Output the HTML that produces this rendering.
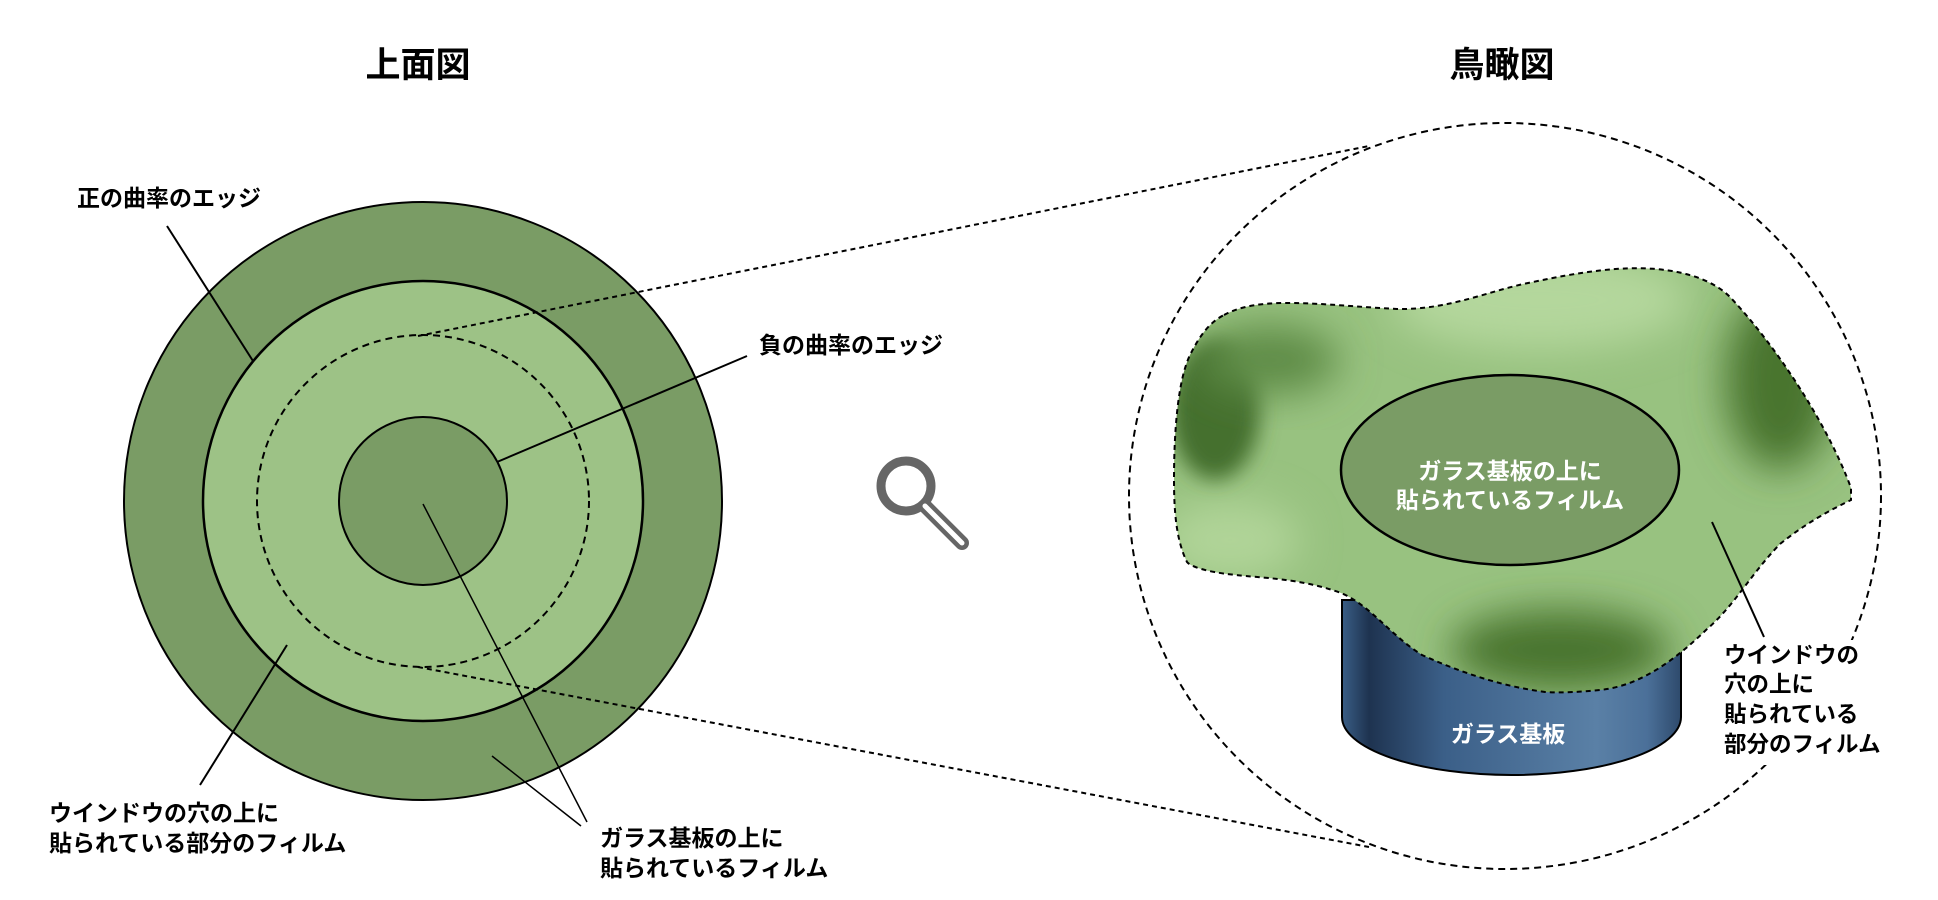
<!DOCTYPE html>
<html><head><meta charset="utf-8"><style>
html,body{margin:0;padding:0;background:#fff}
svg{display:block}
text{font-family:"Liberation Sans","Noto Sans CJK JP",sans-serif;font-weight:bold}
</style></head><body>
<svg width="1938" height="900" viewBox="0 0 1938 900" xmlns="http://www.w3.org/2000/svg">
<defs>
<linearGradient id="cyl" x1="0" x2="1" y1="0" y2="0">
<stop offset="0" stop-color="#3a5e86"/><stop offset="0.08" stop-color="#1e3350"/><stop offset="0.3" stop-color="#3b5f88"/><stop offset="0.75" stop-color="#5a80a6"/><stop offset="0.9" stop-color="#4b7099"/><stop offset="1" stop-color="#2e4a6c"/>
</linearGradient>
<clipPath id="filmclip"><path id="filmp" d="M1224,315 C1260,295 1320,305 1397,309 C1450,310 1490,290 1533,282 C1580,272 1620,266 1656,269 C1690,272 1715,282 1730,297 C1780,350 1830,430 1851,488 L1851,500 C1820,515 1800,528 1780,544 C1750,575 1735,605 1706,630 C1675,660 1640,686 1600,690 C1580,692 1560,693 1545,692 C1500,686 1460,672 1422,655 C1390,635 1370,605 1341,593 C1300,578 1260,578 1236,575 C1205,572 1190,566 1187,562 C1176,540 1174,510 1174,480 C1174,430 1178,380 1190,355 C1200,335 1210,322 1224,315 Z"/></clipPath>
<filter id="bl" x="-50%" y="-50%" width="200%" height="200%"><feGaussianBlur stdDeviation="20"/></filter>
<filter id="bl2" x="-50%" y="-50%" width="200%" height="200%"><feGaussianBlur stdDeviation="10"/></filter>
</defs>

<text x="418" y="77" font-size="35" text-anchor="middle">上面図</text>
<text x="1502" y="77" font-size="35" text-anchor="middle">鳥瞰図</text>

<circle cx="423" cy="501" r="299" fill="#7a9c65" stroke="#000" stroke-width="2"/>
<circle cx="423" cy="501" r="220" fill="#9dc286" stroke="#000" stroke-width="2.5"/>
<circle cx="423" cy="501" r="166" fill="none" stroke="#000" stroke-width="2" stroke-dasharray="7,5"/>
<circle cx="423" cy="501" r="84" fill="#7a9c65" stroke="#000" stroke-width="2"/>

<g stroke="#000" stroke-width="2" fill="none">
<line x1="167" y1="226" x2="253" y2="361"/>
<line x1="747" y1="356" x2="497" y2="462"/>
<line x1="200" y1="785" x2="287" y2="645"/>
<line x1="587" y1="822" x2="423" y2="504" stroke-width="1.5"/>
<line x1="581" y1="826" x2="492" y2="756" stroke-width="1.5"/>
</g>
<g stroke="#000" stroke-width="2" fill="none" stroke-dasharray="5,4">
<line x1="418" y1="336" x2="1369" y2="146"/>
<line x1="418" y1="667" x2="1369" y2="847"/>
</g>

<g font-size="23">
<text x="77" y="206">正の曲率のエッジ</text>
<text x="759" y="353">負の曲率のエッジ</text>
<text x="49" y="821">ウインドウの穴の上に</text>
<text x="49" y="851">貼られている部分のフィルム</text>
<text x="600" y="846">ガラス基板の上に</text>
<text x="600" y="876">貼られているフィルム</text>
</g>

<circle cx="906" cy="486" r="25" fill="none" stroke="#666" stroke-width="9"/>
<line x1="925" y1="506" x2="962" y2="543" stroke="#666" stroke-width="14" stroke-linecap="round"/>
<line x1="925" y1="506" x2="962" y2="543" stroke="#fff" stroke-width="5" stroke-linecap="round"/>

<ellipse cx="1505" cy="496" rx="376" ry="373" fill="none" stroke="#000" stroke-width="2" stroke-dasharray="7,5"/>

<path d="M1342,600 L1342,717 A169.5,58 0 0 0 1681,717 L1681,600 Z" fill="url(#cyl)" stroke="#000" stroke-width="2"/>
<text x="1508" y="742" font-size="23" fill="#fff" text-anchor="middle">ガラス基板</text>

<g clip-path="url(#filmclip)">
<rect x="1150" y="250" width="740" height="470" fill="#98c280"/>
<ellipse cx="1540" cy="300" rx="150" ry="50" fill="#b4d79c" filter="url(#bl)"/>
<ellipse cx="1230" cy="540" rx="70" ry="40" fill="#b0d498" filter="url(#bl)"/>
<ellipse cx="1215" cy="410" rx="45" ry="70" fill="#44702e" filter="url(#bl2)"/>
<ellipse cx="1270" cy="360" rx="70" ry="35" fill="#5f8c46" filter="url(#bl)"/>
<ellipse cx="1780" cy="380" rx="55" ry="90" fill="#48742f" filter="url(#bl)"/>
<ellipse cx="1560" cy="650" rx="110" ry="40" fill="#48742f" filter="url(#bl)"/>
</g>
<use href="#filmp" fill="none" stroke="#000" stroke-width="2" stroke-dasharray="5,4"/>
<ellipse cx="1510" cy="470" rx="169" ry="95" fill="#7a9c65" stroke="#000" stroke-width="2.5"/>
<text x="1510" y="479" font-size="23" fill="#fff" text-anchor="middle">ガラス基板の上に</text>
<text x="1510" y="508" font-size="23" fill="#fff" text-anchor="middle">貼られているフィルム</text>

<line x1="1712" y1="522" x2="1764" y2="637" stroke="#000" stroke-width="2"/>
<rect x="1718" y="640" width="175" height="125" fill="#fff"/>
<g font-size="22.5">
<text x="1724" y="663">ウインドウの</text>
<text x="1724" y="692">穴の上に</text>
<text x="1724" y="722">貼られている</text>
<text x="1724" y="752">部分のフィルム</text>
</g>
</svg>
</body></html>
